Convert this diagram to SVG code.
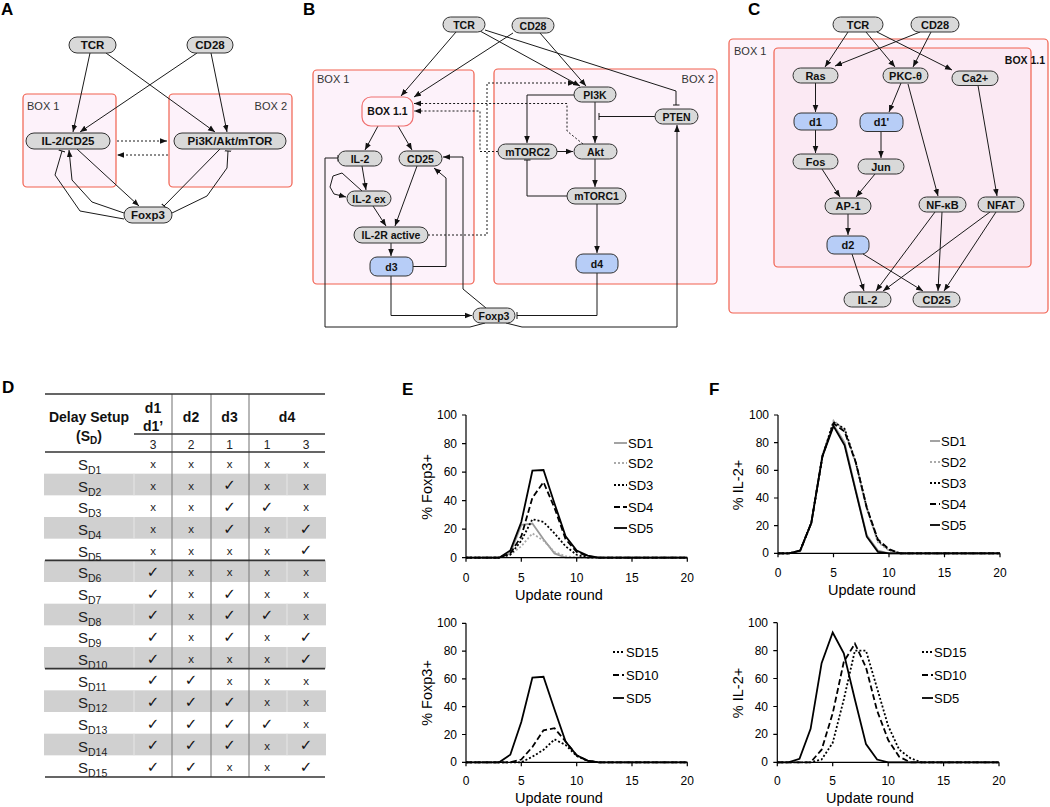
<svg xmlns="http://www.w3.org/2000/svg" width="1050" height="807" viewBox="0 0 1050 807">
<defs>
<style>
.pl{font-family:"Liberation Sans",Arial,sans-serif;font-weight:bold;font-size:17px;fill:#000}
.nd{fill:#d9d9d9;stroke:#333;stroke-width:1}
.bl{fill:#b7cdf7;stroke:#333;stroke-width:1}
.t{font-family:"Liberation Sans",Arial,sans-serif;font-weight:bold;font-size:10.5px;text-anchor:middle;fill:#111}
.ta{font-size:11.5px}
.tc{font-size:11px}
.box{fill:#fdf2fa;stroke:#f1614f;stroke-width:1.2}
.box2{fill:#fbe9f3;stroke:#f1614f;stroke-width:1.2}
.bx11{fill:#fff4fb;stroke:#f07070;stroke-width:1.2}
.bt{font-family:"Liberation Sans",Arial,sans-serif;font-size:11px;fill:#333}
.e{fill:none;stroke:#1a1a1a;stroke-width:1}
.d{stroke-dasharray:2,2}
.a{marker-end:url(#arr)}
.i{marker-end:url(#tee)}
.ax{fill:none;stroke:#000;stroke-width:1.2}
.tk{font-family:"Liberation Sans",Arial,sans-serif;font-size:12px;fill:#000}
.tr{text-anchor:end}
.tm{text-anchor:middle}
.xl{font-family:"Liberation Sans",Arial,sans-serif;font-size:14.5px;fill:#000;text-anchor:middle}
.lg{font-family:"Liberation Sans",Arial,sans-serif;font-size:13px;fill:#000}
.k5{fill:none;stroke:#000;stroke-width:1.8}
.k4{fill:none;stroke:#000;stroke-width:1.8;stroke-dasharray:6,3}
.k3{fill:none;stroke:#000;stroke-width:1.8;stroke-dasharray:2,2}
.k1{fill:none;stroke:#999;stroke-width:1.8}
.k2{fill:none;stroke:#aaa;stroke-width:1.8;stroke-dasharray:2,2}
.th{font-family:"Liberation Sans",Arial,sans-serif;font-weight:bold;font-size:14px;text-anchor:middle;fill:#111}
.tn{font-family:"Liberation Sans",Arial,sans-serif;font-size:12px;text-anchor:middle;fill:#222}
.sd{font-family:"Liberation Sans",Arial,sans-serif;font-size:15px;fill:#222}
.sb{font-size:10.5px}
.xm{font-family:"Liberation Sans",Arial,sans-serif;font-size:11.5px;text-anchor:middle;fill:#222}
.ck{font-family:"DejaVu Sans",sans-serif;font-size:15px;text-anchor:middle;fill:#111}
.hl{stroke:#333;stroke-width:1.6}
.vl{stroke:#888;stroke-width:1.2}
.sh{fill:#d0d0d0}
.sl{stroke:#e6e6e6;stroke-width:1}
</style>
<marker id="arr" viewBox="0 0 10 10" refX="10" refY="5" markerWidth="7" markerHeight="7" orient="auto" markerUnits="userSpaceOnUse"><path d="M0,1 L10,5 L0,9 z" fill="#111"/></marker>
<marker id="tee" viewBox="0 0 10 10" refX="5" refY="5" markerWidth="7" markerHeight="7" orient="auto" markerUnits="userSpaceOnUse"><path d="M5,0 V10" stroke="#111" stroke-width="1.4"/></marker>
</defs>
<rect width="1050" height="807" fill="#fff"/>

<!-- panel labels -->
<text class="pl" x="1" y="15">A</text>
<text class="pl" x="303" y="15">B</text>
<text class="pl" x="748" y="15">C</text>
<text class="pl" x="2" y="393">D</text>
<text class="pl" x="402" y="395">E</text>
<text class="pl" x="709" y="395">F</text>

<!-- ============ PANEL A ============ -->
<g id="A-box1"><rect class="box" x="23" y="94" width="93" height="93" rx="4"/><text class="bt" x="27" y="110">BOX 1</text></g>
<g id="A-box2"><rect class="box" x="169" y="94" width="123" height="93" rx="4"/><text class="bt" x="287" y="110" text-anchor="end">BOX 2</text></g>
<g id="A-edges">
<path class="e a" d="M90,53 L73,132"/>
<path class="e a" d="M106,53 L215,132"/>
<path class="e a" d="M197,53 L80,132"/>
<path class="e a" d="M211,53 L227,132"/>
<path class="e d a" d="M117,141 L167,141"/>
<path class="e d a" d="M168,155 L117,155"/>
<path class="e a" d="M77,149 L139,206"/>
<path class="e i" d="M220,149 L164,206"/>
<path class="e a" d="M124,213 L92,202 L72,180 L69,150"/>
<path class="e i" d="M124,219 L80,211 L55,175 L62,151"/>
<path class="e i" d="M172,213 L207,196 L227,168 L228,151"/>
</g>
<g id="A-TCR"><rect class="nd" x="69" y="37" width="47" height="16" rx="8"/><text class="t ta" x="92.5" y="49">TCR</text></g>
<g id="A-CD28"><rect class="nd" x="187" y="37" width="46" height="16" rx="8"/><text class="t ta" x="210" y="49">CD28</text></g>
<g id="A-IL2CD25"><rect class="nd" x="26" y="133" width="84" height="16" rx="8"/><text class="t ta" x="68" y="145">IL-2/CD25</text></g>
<g id="A-PI3K"><rect class="nd" x="174" y="133" width="112" height="16" rx="8"/><text class="t ta" x="230" y="145">Pi3K/Akt/mTOR</text></g>
<g id="A-Foxp3"><rect class="nd" x="124" y="207" width="48" height="16" rx="8"/><text class="t ta" x="148" y="219">Foxp3</text></g>

<!-- ============ PANEL B ============ -->
<g id="B-box1"><rect class="box" x="313" y="70" width="161" height="214" rx="4"/><text class="bt" x="317" y="83">BOX 1</text></g>
<g id="B-box2"><rect class="box" x="494" y="69" width="223" height="215" rx="4"/><text class="bt" x="714" y="83" text-anchor="end">BOX 2</text></g>
<g id="B-edges">
<path class="e a" d="M456,32 L401,96"/>
<path class="e a" d="M513,33 L414,97"/>
<path class="e a" d="M480,31 L580,86"/>
<path class="e a" d="M540,33 L586,86"/>
<path class="e i" d="M485,30 L676,91 L676,105"/>
<path class="e i" d="M655,116.5 L599,116.5"/>
<path class="e a" d="M595,102 L595,143"/>
<path class="e a" d="M574,95 L527,95 L527,143"/>
<path class="e a" d="M557,151.5 L573,151.5"/>
<path class="e d a" d="M583,144 L567,131 L567,103.5 L414,103.5"/>
<path class="e d a" d="M498,151.5 L480,151.5 L480,111 L414,111"/>
<path class="e d a" d="M428,235 L487,235 L487,83 L575,83"/>
<path class="e a" d="M378,126 L365,150"/>
<path class="e a" d="M398,126 L412,150"/>
<path class="e a" d="M362,166 L366,190"/>
<path class="e a" d="M362,191 L342,173 L333,176 L330,187 L334,194 L346,197"/>
<path class="e a" d="M373,206 L386,226"/>
<path class="e a" d="M417,166 L395,226"/>
<path class="e a" d="M391,243 L391,256"/>
<path class="e a" d="M413,266.5 L446,266.5 L446,178 L434,168"/>
<path class="e a" d="M391,276 L391,315.5 L472,315.5"/>
<path class="e i" d="M597,273 L597,315.5 L517,315.5"/>
<path class="e i" d="M567,196 L527,196 L527,160"/>
<path class="e a" d="M595,159 L595,187"/>
<path class="e a" d="M597,204 L597,253"/>
<path class="e a" d="M486,308 L463,289 L463,157 L443,157"/>
<path class="e i" d="M485,323 L470,327 L325,327 L325,158 L338,158"/>
<path class="e a" d="M506,323 L522,327 L677,327 L677,125"/>
</g>
<g id="B-TCR"><rect class="nd" x="443" y="17" width="42" height="15" rx="7.5"/><text class="t" x="464" y="28.5">TCR</text></g>
<g id="B-CD28"><rect class="nd" x="512" y="18" width="42" height="15" rx="7.5"/><text class="t" x="533" y="29.5">CD28</text></g>
<g id="B-BOX11"><rect class="bx11" x="362" y="97" width="51" height="29" rx="9"/><text class="t" x="387.5" y="115">BOX 1.1</text></g>
<g id="B-IL2"><rect class="nd" x="338" y="151" width="44" height="15" rx="7.5"/><text class="t" x="360" y="162.5">IL-2</text></g>
<g id="B-CD25"><rect class="nd" x="399" y="151" width="43" height="15" rx="7.5"/><text class="t" x="420.5" y="162.5">CD25</text></g>
<g id="B-IL2ex"><rect class="nd" x="347" y="191" width="44" height="15" rx="7.5"/><text class="t" x="369" y="202.5">IL-2 ex</text></g>
<g id="B-IL2R"><rect class="nd" x="354" y="227" width="74" height="16" rx="8"/><text class="t" x="391" y="239">IL-2R active</text></g>
<g id="B-d3"><rect class="bl" x="370" y="257" width="43" height="19" rx="7"/><text class="t" x="391.5" y="270.5">d3</text></g>
<g id="B-PI3K"><rect class="nd" x="574" y="87" width="42" height="15" rx="7.5"/><text class="t" x="595" y="98.5">PI3K</text></g>
<g id="B-PTEN"><rect class="nd" x="655" y="109" width="43" height="15" rx="7.5"/><text class="t" x="676.5" y="120.5">PTEN</text></g>
<g id="B-mTORC2"><rect class="nd" x="498" y="144" width="59" height="15" rx="7.5"/><text class="t" x="527.5" y="155.5">mTORC2</text></g>
<g id="B-Akt"><rect class="nd" x="574" y="144" width="43" height="15" rx="7.5"/><text class="t" x="595.5" y="155.5">Akt</text></g>
<g id="B-mTORC1"><rect class="nd" x="567" y="188" width="59" height="16" rx="8"/><text class="t" x="596.5" y="200">mTORC1</text></g>
<g id="B-d4"><rect class="bl" x="576" y="254" width="42" height="19" rx="7"/><text class="t" x="597" y="267.5">d4</text></g>
<g id="B-Foxp3"><rect class="nd" x="473" y="308" width="42" height="15" rx="7.5"/><text class="t" x="494" y="319.5">Foxp3</text></g>

<!-- ============ PANEL C ============ -->
<g id="C-box1"><rect class="box" x="729" y="39" width="319" height="274" rx="4"/><text class="bt" x="734" y="55" font-size="11.5">BOX 1</text></g>
<g id="C-box11"><rect class="box2" x="774" y="48" width="257" height="219" rx="4"/><text class="t" x="1025" y="64" text-anchor="end" font-size="11.5">BOX 1.1</text></g>
<g id="C-edges">
<path class="e a" d="M848,32 L825,67"/>
<path class="e a" d="M866,32 L895,67"/>
<path class="e a" d="M877,32 L952,70"/>
<path class="e a" d="M920,32 L835,66"/>
<path class="e a" d="M931,32 L913,67"/>
<path class="e a" d="M815.5,83 L815.5,112"/>
<path class="e a" d="M901,83 L889,112"/>
<path class="e a" d="M908,84 L938,196"/>
<path class="e a" d="M978,85.5 L997,196"/>
<path class="e a" d="M815.5,130 L815.5,153"/>
<path class="e a" d="M881,131.5 L881,158"/>
<path class="e a" d="M822,169 L840,197"/>
<path class="e a" d="M875,174 L856,197"/>
<path class="e a" d="M848,214 L848,235"/>
<path class="e a" d="M852,254 L864,291"/>
<path class="e a" d="M863,254 L923,291"/>
<path class="e a" d="M935,212 L876,291"/>
<path class="e a" d="M942,212 L938,291"/>
<path class="e a" d="M990,212 L883,291"/>
<path class="e a" d="M996,212 L944,291"/>
</g>
<g id="C-TCR"><rect class="nd" x="833" y="17" width="50" height="15" rx="7.5"/><text class="t tc" x="858" y="28.5">TCR</text></g>
<g id="C-CD28"><rect class="nd" x="911" y="17" width="48" height="15" rx="7.5"/><text class="t tc" x="935" y="28.5">CD28</text></g>
<g id="C-Ras"><rect class="nd" x="793" y="68" width="45" height="15" rx="7.5"/><text class="t tc" x="815.5" y="79.5">Ras</text></g>
<g id="C-PKC"><rect class="nd" x="883" y="68" width="45" height="15" rx="7.5"/><text class="t tc" x="905.5" y="79.5">PKC-θ</text></g>
<g id="C-Ca"><rect class="nd" x="952" y="71" width="46" height="14.5" rx="7"/><text class="t tc" x="975" y="82">Ca2+</text></g>
<g id="C-d1"><rect class="bl" x="794" y="113" width="43" height="17" rx="7"/><text class="t tc" x="815.5" y="125.5">d1</text></g>
<g id="C-d1p"><rect class="bl" x="860" y="113" width="43" height="18.5" rx="7"/><text class="t tc" x="881.5" y="126">d1'</text></g>
<g id="C-Fos"><rect class="nd" x="793" y="154" width="45" height="15" rx="7.5"/><text class="t tc" x="815.5" y="165.5">Fos</text></g>
<g id="C-Jun"><rect class="nd" x="858" y="159" width="46" height="15" rx="7.5"/><text class="t tc" x="881" y="170.5">Jun</text></g>
<g id="C-AP1"><rect class="nd" x="825" y="198" width="46" height="16" rx="8"/><text class="t tc" x="848" y="210">AP-1</text></g>
<g id="C-NFkB"><rect class="nd" x="919" y="197" width="47" height="15" rx="7.5"/><text class="t tc" x="942.5" y="208.5">NF-κB</text></g>
<g id="C-NFAT"><rect class="nd" x="978" y="197" width="46" height="15" rx="7.5"/><text class="t tc" x="1001" y="208.5">NFAT</text></g>
<g id="C-d2"><rect class="bl" x="827" y="236" width="42" height="18" rx="7"/><text class="t tc" x="848" y="249">d2</text></g>
<g id="C-IL2"><rect class="nd" x="844" y="292" width="47" height="15" rx="7.5"/><text class="t tc" x="867.5" y="303.5">IL-2</text></g>
<g id="C-CD25"><rect class="nd" x="913" y="292" width="47" height="15" rx="7.5"/><text class="t tc" x="936.5" y="303.5">CD25</text></g>

<!-- ============ PANEL D (table) ============ -->
<g id="D-table">
<rect class="sh" x="44" y="473.67" width="282" height="21.67"/>
<rect class="sh" x="44" y="517" width="282" height="21.67"/>
<rect class="sh" x="44" y="560.33" width="282" height="21.67"/>
<rect class="sh" x="44" y="603.67" width="282" height="21.67"/>
<rect class="sh" x="44" y="647" width="282" height="21.67"/>
<rect class="sh" x="44" y="690.33" width="282" height="21.67"/>
<rect class="sh" x="44" y="733.67" width="282" height="21.67"/>
<path class="sl" d="M134,473.67 v21.67 M287,473.67 v21.67 M134,517 v21.67 M287,517 v21.67 M134,560.33 v21.67 M287,560.33 v21.67 M134,603.67 v21.67 M287,603.67 v21.67 M134,647 v21.67 M287,647 v21.67 M134,690.33 v21.67 M287,690.33 v21.67 M134,733.67 v21.67 M287,733.67 v21.67"/>
<path class="vl" d="M172,394 V777 M211,394 V777 M249,394 V777"/>
<path class="hl" d="M45,394 H325 M134,434 H325 M45,452 H325 M45,560.33 H325 M45,668.67 H325 M45,777 H325"/>
<text class="th" x="89" y="422">Delay Setup</text>
<text class="th" x="89" y="441">(S<tspan font-size="10" dy="3">D</tspan><tspan dy="-3">)</tspan></text>
<text class="th" x="153" y="413">d1</text>
<text class="th" x="153" y="431">d1’</text>
<text class="th" x="191" y="422">d2</text>
<text class="th" x="229.5" y="422">d3</text>
<text class="th" x="287" y="422">d4</text>
<text class="tn" x="153" y="449">3</text>
<text class="tn" x="191" y="449">2</text>
<text class="tn" x="229.5" y="449">1</text>
<text class="tn" x="267" y="449">1</text>
<text class="tn" x="306" y="449">3</text>

<text class="sd" x="78" y="470">S<tspan class="sb" dy="4">D1</tspan></text>
<text class="sd" x="78" y="491.7">S<tspan class="sb" dy="4">D2</tspan></text>
<text class="sd" x="78" y="513.3">S<tspan class="sb" dy="4">D3</tspan></text>
<text class="sd" x="78" y="535">S<tspan class="sb" dy="4">D4</tspan></text>
<text class="sd" x="78" y="556.7">S<tspan class="sb" dy="4">D5</tspan></text>
<text class="sd" x="78" y="578.3">S<tspan class="sb" dy="4">D6</tspan></text>
<text class="sd" x="78" y="600">S<tspan class="sb" dy="4">D7</tspan></text>
<text class="sd" x="78" y="621.7">S<tspan class="sb" dy="4">D8</tspan></text>
<text class="sd" x="78" y="643.3">S<tspan class="sb" dy="4">D9</tspan></text>
<text class="sd" x="78" y="665">S<tspan class="sb" dy="4">D10</tspan></text>
<text class="sd" x="78" y="686.7">S<tspan class="sb" dy="4">D11</tspan></text>
<text class="sd" x="78" y="708.3">S<tspan class="sb" dy="4">D12</tspan></text>
<text class="sd" x="78" y="730">S<tspan class="sb" dy="4">D13</tspan></text>
<text class="sd" x="78" y="751.7">S<tspan class="sb" dy="4">D14</tspan></text>
<text class="sd" x="78" y="773.3">S<tspan class="sb" dy="4">D15</tspan></text>

<!-- row 1 -->
<text class="xm" x="153" y="468">x</text><text class="xm" x="191" y="468">x</text><text class="xm" x="229.5" y="468">x</text><text class="xm" x="267" y="468">x</text><text class="xm" x="306" y="468">x</text>
<!-- row 2 -->
<text class="xm" x="153" y="489.7">x</text><text class="xm" x="191" y="489.7">x</text><text class="ck" x="229.5" y="490.2">✓</text><text class="xm" x="267" y="489.7">x</text><text class="xm" x="306" y="489.7">x</text>
<!-- row 3 -->
<text class="xm" x="153" y="511.3">x</text><text class="xm" x="191" y="511.3">x</text><text class="ck" x="229.5" y="511.8">✓</text><text class="ck" x="267" y="511.8">✓</text><text class="xm" x="306" y="511.3">x</text>
<!-- row 4 -->
<text class="xm" x="153" y="533">x</text><text class="xm" x="191" y="533">x</text><text class="ck" x="229.5" y="533.5">✓</text><text class="xm" x="267" y="533">x</text><text class="ck" x="306" y="533.5">✓</text>
<!-- row 5 -->
<text class="xm" x="153" y="554.7">x</text><text class="xm" x="191" y="554.7">x</text><text class="xm" x="229.5" y="554.7">x</text><text class="xm" x="267" y="554.7">x</text><text class="ck" x="306" y="555.2">✓</text>
<!-- row 6 -->
<text class="ck" x="153" y="576.8">✓</text><text class="xm" x="191" y="576.3">x</text><text class="xm" x="229.5" y="576.3">x</text><text class="xm" x="267" y="576.3">x</text><text class="xm" x="306" y="576.3">x</text>
<!-- row 7 -->
<text class="ck" x="153" y="598.5">✓</text><text class="xm" x="191" y="598">x</text><text class="ck" x="229.5" y="598.5">✓</text><text class="xm" x="267" y="598">x</text><text class="xm" x="306" y="598">x</text>
<!-- row 8 -->
<text class="ck" x="153" y="620.2">✓</text><text class="xm" x="191" y="619.7">x</text><text class="ck" x="229.5" y="620.2">✓</text><text class="ck" x="267" y="620.2">✓</text><text class="xm" x="306" y="619.7">x</text>
<!-- row 9 -->
<text class="ck" x="153" y="641.8">✓</text><text class="xm" x="191" y="641.3">x</text><text class="ck" x="229.5" y="641.8">✓</text><text class="xm" x="267" y="641.3">x</text><text class="ck" x="306" y="641.8">✓</text>
<!-- row 10 -->
<text class="ck" x="153" y="663.5">✓</text><text class="xm" x="191" y="663">x</text><text class="xm" x="229.5" y="663">x</text><text class="xm" x="267" y="663">x</text><text class="ck" x="306" y="663.5">✓</text>
<!-- row 11 -->
<text class="ck" x="153" y="685.2">✓</text><text class="ck" x="191" y="685.2">✓</text><text class="xm" x="229.5" y="684.7">x</text><text class="xm" x="267" y="684.7">x</text><text class="xm" x="306" y="684.7">x</text>
<!-- row 12 -->
<text class="ck" x="153" y="706.8">✓</text><text class="ck" x="191" y="706.8">✓</text><text class="ck" x="229.5" y="706.8">✓</text><text class="xm" x="267" y="706.3">x</text><text class="xm" x="306" y="706.3">x</text>
<!-- row 13 -->
<text class="ck" x="153" y="728.5">✓</text><text class="ck" x="191" y="728.5">✓</text><text class="ck" x="229.5" y="728.5">✓</text><text class="ck" x="267" y="728.5">✓</text><text class="xm" x="306" y="728">x</text>
<!-- row 14 -->
<text class="ck" x="153" y="750.2">✓</text><text class="ck" x="191" y="750.2">✓</text><text class="ck" x="229.5" y="750.2">✓</text><text class="xm" x="267" y="749.7">x</text><text class="ck" x="306" y="750.2">✓</text>
<!-- row 15 -->
<text class="ck" x="153" y="771.8">✓</text><text class="ck" x="191" y="771.8">✓</text><text class="xm" x="229.5" y="771.3">x</text><text class="xm" x="267" y="771.3">x</text><text class="ck" x="306" y="771.8">✓</text>
</g>

<!-- ============ PANEL E top ============ -->
<g id="E-top">
<polyline class="k1" points="466,557.7 499.2,557.7 510.3,553.4 521.3,524.9 532.4,523.5 543.5,539.2 554.5,553.4 565.6,557.7 687.3,557.7"/>
<polyline class="k2" points="466,557.7 499.2,557.7 510.3,554.8 521.3,546.3 532.4,533.4 543.5,540.6 554.5,552 565.6,556.3 576.7,557.7 687.3,557.7"/>
<polyline class="k3" points="466,557.7 499.2,557.7 510.3,554.8 521.3,540.6 532.4,519.2 543.5,522 554.5,533.4 565.6,546.3 576.7,554.8 587.7,557.7 687.3,557.7"/>
<polyline class="k4" points="466,557.7 499.2,557.7 510.3,553.4 521.3,536.3 532.4,497.8 543.5,482.1 554.5,507.8 565.6,539.2 576.7,552 587.7,556.3 598.8,557.7 687.3,557.7"/>
<polyline class="k5" points="466,557.7 499.2,557.7 510.3,550.6 521.3,522 532.4,470.7 543.5,470 554.5,503.5 565.6,536.3 576.7,550.6 587.7,555.6 598.8,557.7 687.3,557.7"/>
<path class="ax" d="M466,415 V557.7 H687.3 M462,415 H466 M462,443.6 H466 M462,472.1 H466 M462,500.6 H466 M462,529.2 H466 M462,557.7 H466 M466,557.7 V561.7 M521.3,557.7 V561.7 M576.7,557.7 V561.7 M632,557.7 V561.7 M687.3,557.7 V561.7"/>
<text class="tk tr" x="457" y="419">100</text><text class="tk tr" x="457" y="447.6">80</text><text class="tk tr" x="457" y="476.1">60</text><text class="tk tr" x="457" y="504.6">40</text><text class="tk tr" x="457" y="533.2">20</text><text class="tk tr" x="457" y="561.7">0</text>
<text class="tk tm" x="466" y="582">0</text><text class="tk tm" x="521.3" y="582">5</text><text class="tk tm" x="576.7" y="582">10</text><text class="tk tm" x="632" y="582">15</text><text class="tk tm" x="687.3" y="582">20</text>
<text class="xl" x="559" y="600">Update round</text>
<text class="xl" transform="translate(432,487) rotate(-90)">% Foxp3+</text>
<path class="k1" d="M614,443 H627"/><text class="lg" x="628" y="448">SD1</text>
<path class="k2" d="M614,463 H627"/><text class="lg" x="628" y="468">SD2</text>
<path class="k3" d="M614,485 H627"/><text class="lg" x="628" y="490">SD3</text>
<path class="k4" d="M614,507 H627" stroke-dasharray="4,2"/><text class="lg" x="628" y="512">SD4</text>
<path class="k5" d="M614,528 H627"/><text class="lg" x="628" y="533">SD5</text>
</g>

<!-- ============ PANEL E bottom ============ -->
<g id="E-bottom">
<polyline class="k3" points="466,762.3 521.3,762.3 532.4,756.7 543.5,749.8 554.5,739.4 565.6,744.9 576.7,756 587.7,760.9 598.8,762.3 687.3,762.3"/>
<polyline class="k4" points="466,762.3 510.3,762.3 521.3,759.5 532.4,747 543.5,730.3 554.5,728.2 565.6,741.5 576.7,755.4 587.7,760.9 598.8,762.3 687.3,762.3"/>
<polyline class="k5" points="466,762.3 499.2,762.3 510.3,754.7 521.3,722 532.4,677.5 543.5,676.8 554.5,709.5 565.6,741.5 576.7,755.4 587.7,760.6 598.8,762.3 687.3,762.3"/>
<path class="ax" d="M466,623.3 V762.3 H687.3 M462,623.3 H466 M462,651.1 H466 M462,678.9 H466 M462,706.7 H466 M462,734.5 H466 M462,762.3 H466 M466,762.3 V766.3 M521.3,762.3 V766.3 M576.7,762.3 V766.3 M632,762.3 V766.3 M687.3,762.3 V766.3"/>
<text class="tk tr" x="457" y="627.3">100</text><text class="tk tr" x="457" y="655.1">80</text><text class="tk tr" x="457" y="682.9">60</text><text class="tk tr" x="457" y="710.7">40</text><text class="tk tr" x="457" y="738.5">20</text><text class="tk tr" x="457" y="766.3">0</text>
<text class="tk tm" x="466" y="785">0</text><text class="tk tm" x="521.3" y="785">5</text><text class="tk tm" x="576.7" y="785">10</text><text class="tk tm" x="632" y="785">15</text><text class="tk tm" x="687.3" y="785">20</text>
<text class="xl" x="559" y="803">Update round</text>
<text class="xl" transform="translate(432,693) rotate(-90)">% Foxp3+</text>
<path class="k3" d="M613,652 H624"/><text class="lg" x="626" y="657">SD15</text>
<path class="k4" d="M613,675 H624" stroke-dasharray="4,2"/><text class="lg" x="626" y="680">SD10</text>
<path class="k5" d="M613,698 H624"/><text class="lg" x="626" y="703">SD5</text>
</g>

<!-- ============ PANEL F top ============ -->
<g id="F-top">
<polyline class="k1" points="778,553.3 789.1,553.3 800.2,551.2 811.3,522.9 822.4,455.1 833.5,424.7 844.6,442.7 855.7,489.7 866.8,535.3 877.9,550.5 889,553.3 1000,553.3"/>
<polyline class="k2" points="778,553.3 789.1,553.3 800.2,550.5 811.3,522.9 822.4,456.5 833.5,420.5 844.6,430.2 855.7,463.4 866.8,509 877.9,542.2 889,550.5 900.1,553.3 1000,553.3"/>
<polyline class="k3" points="778,553.3 789.1,553.3 800.2,550.5 811.3,522.9 822.4,456.5 833.5,421.9 844.6,428.8 855.7,462 866.8,507.7 877.9,540.9 889,549.8 900.1,553.3 1000,553.3"/>
<polyline class="k4" points="778,553.3 789.1,553.3 800.2,550.5 811.3,522.9 822.4,456.5 833.5,423.3 844.6,431.6 855.7,462 866.8,507.7 877.9,539.5 889,549.2 900.1,553.3 1000,553.3"/>
<polyline class="k5" points="778,553.3 789.1,553.3 800.2,550.5 811.3,522.9 822.4,456.5 833.5,426.1 844.6,445.4 855.7,491.1 866.8,536.7 877.9,551.9 889,553.3 1000,553.3"/>
<path class="ax" d="M778,415 V553.3 H1000 M774,415 H778 M774,442.7 H778 M774,470.3 H778 M774,498 H778 M774,525.6 H778 M774,553.3 H778 M778,553.3 V557.3 M833.5,553.3 V557.3 M889,553.3 V557.3 M944.5,553.3 V557.3 M1000,553.3 V557.3"/>
<text class="tk tr" x="769" y="419">100</text><text class="tk tr" x="769" y="446.7">80</text><text class="tk tr" x="769" y="474.3">60</text><text class="tk tr" x="769" y="502">40</text><text class="tk tr" x="769" y="529.6">20</text><text class="tk tr" x="769" y="557.3">0</text>
<text class="tk tm" x="778" y="577">0</text><text class="tk tm" x="833.5" y="577">5</text><text class="tk tm" x="889" y="577">10</text><text class="tk tm" x="944.5" y="577">15</text><text class="tk tm" x="1000" y="577">20</text>
<text class="xl" x="872" y="595">Update round</text>
<text class="xl" transform="translate(743,485) rotate(-90)">% IL-2+</text>
<path class="k1" d="M930,441 H940"/><text class="lg" x="941" y="446">SD1</text>
<path class="k2" d="M930,462 H940"/><text class="lg" x="941" y="467">SD2</text>
<path class="k3" d="M930,483 H940"/><text class="lg" x="941" y="488">SD3</text>
<path class="k4" d="M930,504 H940" stroke-dasharray="4,2"/><text class="lg" x="941" y="509">SD4</text>
<path class="k5" d="M930,525 H940"/><text class="lg" x="941" y="530">SD5</text>
</g>

<!-- ============ PANEL F bottom ============ -->
<g id="F-bottom">
<polyline class="k3" points="777.3,762.3 810.6,762.3 821.6,759.5 832.7,742.8 843.8,699.5 854.9,650.6 866,650.6 877.1,688.3 888.2,726 899.2,749.7 910.3,758.1 921.4,762.3 999,762.3"/>
<polyline class="k4" points="777.3,762.3 810.6,762.3 821.6,749.7 832.7,713.4 843.8,661.8 854.9,643.6 866,667.4 877.1,710.6 888.2,740 899.2,756.7 910.3,762.3 999,762.3"/>
<polyline class="k5" points="777.3,762.3 788.4,762.3 799.5,758.8 810.6,728.8 821.6,663.2 832.7,632.5 843.8,653.4 854.9,699.5 866,744.1 877.1,759.5 888.2,762.3 999,762.3"/>
<path class="ax" d="M777.3,622.7 V762.3 H999 M773.3,622.7 H777.3 M773.3,650.6 H777.3 M773.3,678.5 H777.3 M773.3,706.5 H777.3 M773.3,734.4 H777.3 M773.3,762.3 H777.3 M777.3,762.3 V766.3 M832.7,762.3 V766.3 M888.2,762.3 V766.3 M943.6,762.3 V766.3 M999,762.3 V766.3"/>
<text class="tk tr" x="768" y="626.7">100</text><text class="tk tr" x="768" y="654.6">80</text><text class="tk tr" x="768" y="682.5">60</text><text class="tk tr" x="768" y="710.5">40</text><text class="tk tr" x="768" y="738.4">20</text><text class="tk tr" x="768" y="766.3">0</text>
<text class="tk tm" x="777.3" y="785">0</text><text class="tk tm" x="832.7" y="785">5</text><text class="tk tm" x="888.2" y="785">10</text><text class="tk tm" x="943.6" y="785">15</text><text class="tk tm" x="999" y="785">20</text>
<text class="xl" x="870" y="803">Update round</text>
<text class="xl" transform="translate(743,693) rotate(-90)">% IL-2+</text>
<path class="k3" d="M922,652 H933"/><text class="lg" x="934" y="657">SD15</text>
<path class="k4" d="M922,675 H933" stroke-dasharray="4,2"/><text class="lg" x="934" y="680">SD10</text>
<path class="k5" d="M922,698 H933"/><text class="lg" x="934" y="703">SD5</text>
</g>
</svg>
